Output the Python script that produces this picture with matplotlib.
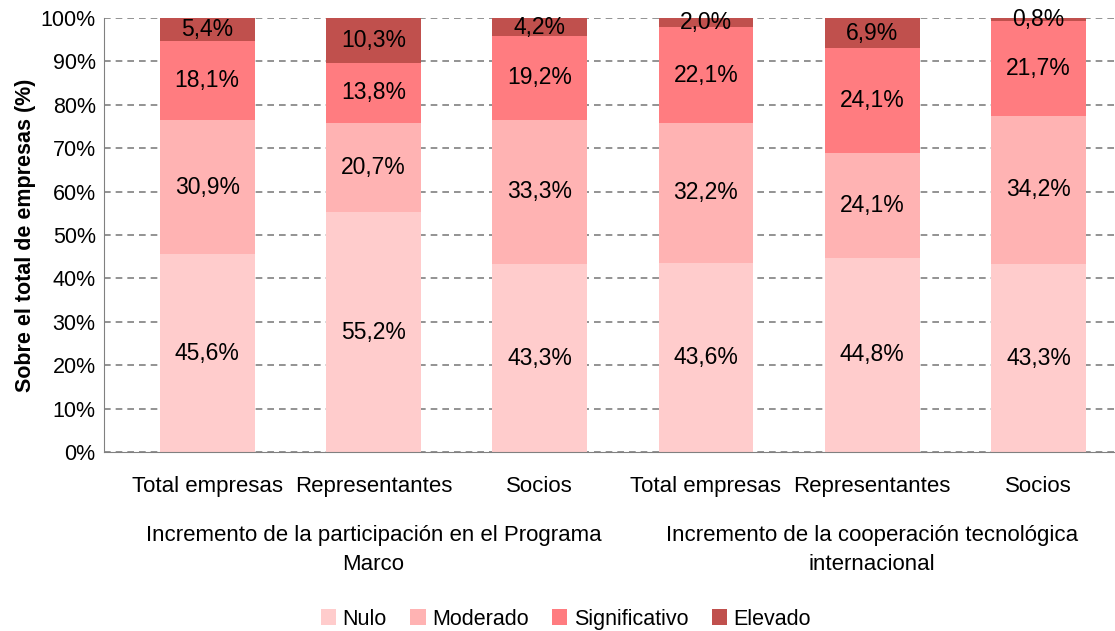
import matplotlib.pyplot as plt
import numpy as np

categorias = ["Total empresas", "Representantes", "Socios",
              "Total empresas", "Representantes", "Socios"]
grupos = ["Incremento de la participación en el Programa\nMarco",
          "Incremento de la cooperación tecnológica\ninternacional"]
series = ["Nulo", "Moderado", "Significativo", "Elevado"]
nulo = [45.6, 55.2, 43.3, 43.6, 44.8, 43.3]
moderado = [30.9, 20.7, 33.3, 32.2, 24.1, 34.2]
significativo = [18.1, 13.8, 19.2, 22.1, 24.1, 21.7]
elevado = [5.4, 10.3, 4.2, 2.0, 6.9, 0.8]
colores = ["#FFCCCC", "#FFB3B3", "#FF7C80", "#C0504D"]

plt.rcParams['font.family'] = ['Liberation Sans', 'DejaVu Sans']

fig = plt.figure(figsize=(11.15, 6.31), dpi=100)
# el eje llega hasta el borde derecho de la figura
ax = fig.add_axes([0.0933, 0.2837, 0.9067, 0.6878])

x = np.arange(len(categorias))
bottom = np.zeros(len(categorias))
for nombre, vals, col in zip(series, [nulo, moderado, significativo, elevado], colores):
    vals = np.array(vals)
    ax.bar(x, vals, 0.57, bottom=bottom, color=col, label=nombre, zorder=2)
    for xi, b, v in zip(x, bottom, vals):
        ax.text(xi, b + v / 2, f"{v:.1f}%".replace(".", ","), ha="center", va="center",
                fontsize=16.5, zorder=3)
    bottom += vals

ax.set_xlim(-0.62, 5.46)
ax.set_ylim(0, 100)
ax.set_yticks(np.arange(0, 101, 10))
ax.set_yticklabels([f"{v}%" for v in range(0, 101, 10)], fontsize=15.5)
ax.set_xticks(x)
ax.set_xticklabels(categorias, fontsize=16)
ax.tick_params(axis="both", length=0, pad=6)
ax.tick_params(axis="x", pad=17)
ax.yaxis.grid(True, linestyle=(0, (4, 3)), color="#808080", linewidth=1.2, zorder=1)
for s in ["top", "right"]:
    ax.spines[s].set_visible(False)
ax.spines["left"].set_color("#808080")
ax.spines["bottom"].set_color("#808080")
ax.set_ylabel("Sobre el total de empresas (%)", fontsize=15.5, fontweight="bold", labelpad=3)

for i, g in enumerate(grupos):
    ax.text(1 + 3 * i, -16.8, g, ha="center", va="top", fontsize=16, linespacing=1.5)

ax.legend(loc="upper center", bbox_to_anchor=(0.457, -0.316), ncol=4, frameon=False,
          fontsize=15.5, handlelength=0.7, handleheight=0.7, handletextpad=0.3,
          columnspacing=1.1)

fig.savefig("out.png", dpi=100)
